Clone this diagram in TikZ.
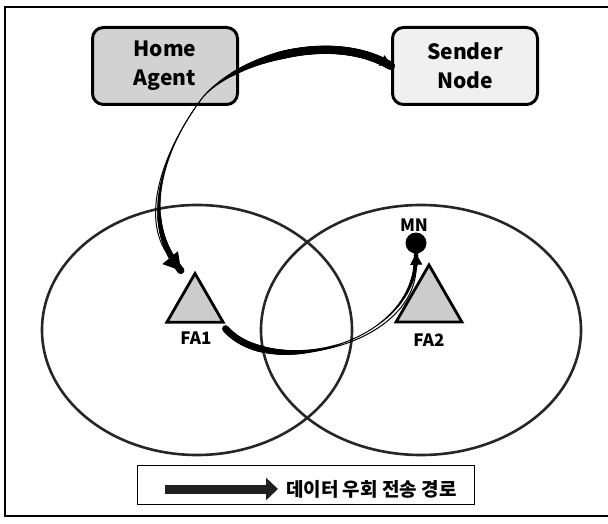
\documentclass[tikz,border=0pt]{standalone}
\usepackage{fontspec}
\setmainfont{Noto Sans CJK KR}
\usetikzlibrary{arrows.meta,shapes.geometric,decorations.markings}

\tikzset{
	brush/.style={decoration={markings,
		mark=between positions 0 and 1 step 0.8pt with {%
			\pgfmathsetmacro\brushpos{\pgfkeysvalueof{/pgf/decoration/mark info/distance from start}/\pgfdecoratedpathlength}%
			\pgfmathsetmacro\brushrad{#1}%
			\fill (0pt,0pt) circle (\brushrad pt);}}, decorate},
}

\begin{document}
\begin{tikzpicture}[x=1pt,y=-1pt]
		\tikzstyle{every node}+=[inner sep=0pt]
		\tikzstyle{agent}=[draw=black, line width=3pt, rounded corners=11pt, minimum width=145pt, minimum height=77pt, align=center, font=\fontsize{21}{29}\selectfont\bfseries]
		\tikzstyle{fa}=[draw=black, line width=2.8pt, fill=gray!40, regular polygon, regular polygon sides=3]
		\tikzstyle{tag}=[font=\fontsize{17}{19}\selectfont\bfseries]
		\tikzstyle{cell}=[black!85, line width=2.6pt]
		\tikzstyle{detour}=[black, line width=1pt]
		\useasboundingbox (0,0) rectangle (608,524);
		\draw [black, line width=2.4pt] (608,7) -- (5,7) -- (5,516) -- (608,516);
		\draw [cell] (197,330) ellipse (155 and 125);
		\draw [cell] (421,330) ellipse (160 and 125);
		\node (ha) [agent, fill=gray!35] at (165,66) {Home\\Agent};
		\node (sn) [agent, fill=gray!12] at (465,66) {Sender\\Node};
		\node (fa1) [fa, minimum size=65pt] at (195,306) {};
		\node (fa2) [fa, minimum size=76pt] at (429,303) {};
		\node [tag] at (196,338) {FA1};
		\node [tag] at (429,340) {FA2};
		\node (mn) [circle, fill=black, minimum size=21pt] at (416,243) {};
		\node [tag] at (414,225) {MN};
		\coordinate (hub) at (203,97);
		\draw [detour, -{Triangle[length=11pt,width=12pt]}, postaction={brush={0.5+3.7*min(1,\brushpos/0.45)}}] (hub) .. controls (235,60) and (330,30) .. (sn.west);
		\draw [detour, -{Triangle[length=17pt,width=20pt]}, postaction={brush={0.5+3.2*\brushpos^2}}] (hub) .. controls (170,140) and (135,215) .. ([xshift=-14pt]fa1.corner 1);
		\draw [detour, -{Triangle[length=11pt,width=12pt]}, postaction={brush={0.7+2.8*min(1,max(0,(0.5-\brushpos)/0.35))+1.6*max(0,(\brushpos-0.65)/0.35)}}] ([yshift=-5pt]fa1.corner 3) .. controls (270,380) and (418,345) .. (mn.south);
		\node (legend) [draw=black, line width=1.8pt, minimum width=337pt, minimum height=39pt] at (306,485) {};
		\coordinate (key) at (165,489);
		\draw [line width=9pt, gray!25!black, -{Triangle[length=12pt,width=22pt]}] (key) -- ++(113,0);
		\node [font=\fontsize{19}{21}\selectfont\bfseries, anchor=west] at (286,489) {데이터 우회 전송 경로};
\end{tikzpicture}
\end{document}
